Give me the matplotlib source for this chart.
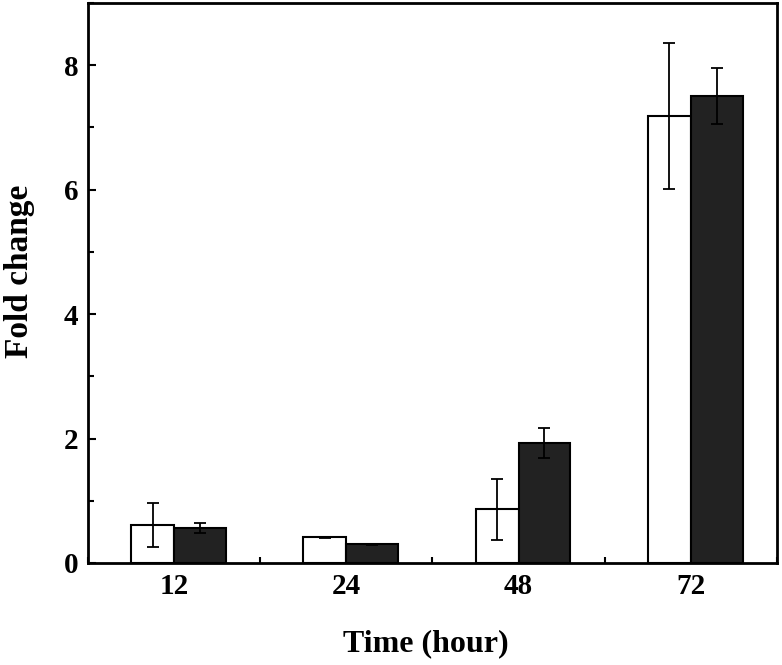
import numpy as np
import matplotlib
matplotlib.use('Agg')
import matplotlib.pyplot as plt
from matplotlib.ticker import MultipleLocator

plt.rcParams['font.family'] = 'Liberation Serif'
plt.rcParams['font.weight'] = 'bold'

times = ['12', '24', '48', '72']
white_vals = [0.61, 0.41, 0.86, 7.18]
white_err = [0.36, 0.005, 0.49, 1.17]
black_vals = [0.555, 0.30, 1.93, 7.50]
black_err = [0.08, 0.01, 0.24, 0.45]

x = np.arange(len(times))

fig = plt.figure(figsize=(7.82, 6.65), dpi=100)
ax = fig.add_axes([0.1125, 0.1534, 0.8811, 0.8421])

ax.bar(x - 0.25, white_vals, width=0.25, align='edge', color='white', edgecolor='black',
       linewidth=1.5, zorder=2)
ax.bar(x, black_vals, width=0.3, align='edge', color='#222222', edgecolor='black',
       linewidth=1.5, zorder=2)
ax.errorbar(x - 0.125, white_vals, yerr=white_err, fmt='none', ecolor='black',
            elinewidth=1.3, capsize=4.5, capthick=1.3, zorder=3)
ax.errorbar(x + 0.15, black_vals, yerr=black_err, fmt='none', ecolor='black',
            elinewidth=1.3, capsize=4.5, capthick=1.3, zorder=3)

ax.set_xlim(-0.5, 3.5)
ax.set_ylim(0, 9)
ax.set_xticks(x)
ax.set_xticklabels(times)
ax.xaxis.set_minor_locator(MultipleLocator(0.5))
ax.yaxis.set_major_locator(MultipleLocator(2))
ax.yaxis.set_minor_locator(MultipleLocator(1))
ax.tick_params(which='both', direction='in', labelsize=21, width=1.5)
ax.tick_params(which='major', length=6, pad=7)
ax.tick_params(which='minor', length=4)
for s in ax.spines.values():
    s.set_linewidth(2)

ax.set_xlabel('Time (hour)', fontsize=23, fontweight='bold')
ax.set_ylabel('Fold change', fontsize=24, fontweight='bold')
ax.xaxis.set_label_coords(0.49, -0.118)
ax.yaxis.set_label_coords(-0.077, 0.52)

fig.savefig('out.png', dpi=100)
